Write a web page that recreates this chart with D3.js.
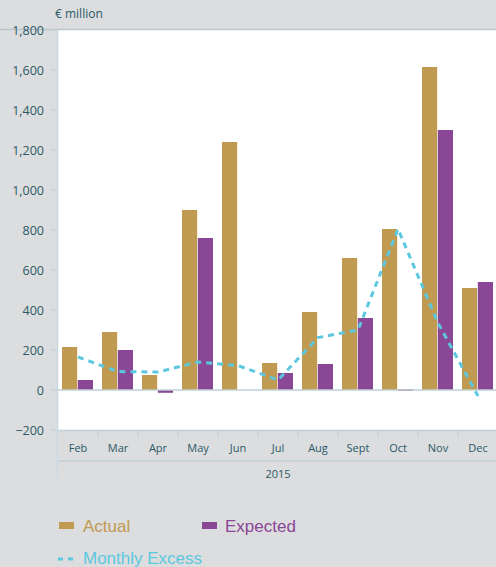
<!DOCTYPE html>
<html>
<head>
<meta charset="utf-8">
<script src="https://cdn.jsdelivr.net/npm/d3@7"></script>
<style>
  body { margin: 0; background: #dcdddf; }
  svg { display: block; }
</style>
</head>
<body>
<div id="chart"></div>
<script>
// values, € million
const months = ["Feb", "Mar", "Apr", "May", "Jun", "Jul", "Aug", "Sept", "Oct", "Nov", "Dec"];
const actual = [215, 290, 75, 900, 1240, 135, 390, 660, 805, 1615, 510];
const expected = [50, 200, -14, 760, 0, 85, 130, 360, 3, 1300, 540];
const monthlyExcess = [165, 92, 90, 140, 122, 50, 262, 300, 805, 335, -30];
const yTicks = [-200, 0, 200, 400, 600, 800, 1000, 1200, 1400, 1600, 1800];
const seriesNames = ["Actual", "Expected"];

const width = 496, height = 567;
const plot_left = 58, plot_right = 498, plot_top = 30, plot_bottom = 430;
const textColor = '#2b5966';
const axisColor = '#bfd0d6';
const colors = { "Actual": '#c09a50', "Expected": '#8a4795' };
const lineColor = '#5bc8df';

var svg = d3.select("#chart").append("svg")
    .attr("width", width)
    .attr("height", height)
    .style("font-family", "'Open Sans', sans-serif");

var x = d3.scaleBand().domain(months).range([plot_left, plot_right]).padding(0);
var x1 = d3.scaleBand().domain(seriesNames).range([4, 35]).paddingInner(0.04);
var y = d3.scaleLinear().domain([-200, 1800]).range([plot_bottom, plot_top]);

// plot background
svg.append("rect")
    .attr("x", plot_left).attr("y", plot_top)
    .attr("width", width - plot_left).attr("height", plot_bottom - plot_top)
    .attr("fill", "white");

// top border
svg.append("line")
    .attr("x1", 0).attr("x2", width)
    .attr("y1", plot_top - 0.5).attr("y2", plot_top - 0.5)
    .attr("stroke", '#b9c6cb').attr("stroke-width", 1.5);

// y axis ticks + labels
var yAxis = svg.append("g");
yAxis.selectAll("line")
    .data(yTicks).enter().append("line")
    .attr("x1", 50).attr("x2", plot_left)
    .attr("y1", d => y(d)).attr("y2", d => y(d))
    .attr("stroke", axisColor).attr("stroke-width", 1);
yAxis.selectAll("text")
    .data(yTicks).enter().append("text")
    .attr("x", 44).attr("y", d => y(d) + 4.5)
    .attr("text-anchor", "end")
    .attr("font-size", 12.5)
    .attr("fill", textColor)
    .text(d => d3.format(",")(d));

svg.append("text")
    .attr("x", 55).attr("y", 18)
    .attr("font-size", 12)
    .attr("fill", textColor)
    .text("€ million");

// bars
var groups = svg.selectAll(".month")
    .data(months).enter().append("g")
    .attr("transform", d => "translate(" + x(d) + ",0)");
groups.selectAll("rect")
    .data((d, i) => seriesNames.map(k => ({ key: k, value: k == "Actual" ? actual[i] : expected[i] })))
    .enter().append("rect")
    .attr("x", d => x1(d.key))
    .attr("width", x1.bandwidth())
    .attr("y", d => y(Math.max(0, d.value)))
    .attr("height", d => Math.max(Math.abs(y(d.value) - y(0)), d.value == 0 ? 0 : 1.5))
    .attr("fill", d => colors[d.key]);

// zero line
svg.append("line")
    .attr("x1", plot_left).attr("x2", width)
    .attr("y1", y(0)).attr("y2", y(0))
    .attr("stroke", axisColor).attr("stroke-width", 1.5);

// monthly excess line
var line = d3.line()
    .x((d, i) => x(months[i]) + x.bandwidth() / 2)
    .y(d => y(d));
svg.append("path")
    .datum(monthlyExcess)
    .attr("d", line)
    .attr("fill", "none")
    .attr("stroke", lineColor)
    .attr("stroke-width", 3)
    .attr("stroke-dasharray", "6,5");

// x axis box
svg.append("line")
    .attr("x1", plot_left).attr("x2", width)
    .attr("y1", plot_bottom + 0.5).attr("y2", plot_bottom + 0.5)
    .attr("stroke", axisColor).attr("stroke-width", 1.5);
svg.append("line")
    .attr("x1", plot_left - 1).attr("x2", width)
    .attr("y1", 461).attr("y2", 461)
    .attr("stroke", axisColor).attr("stroke-width", 1.5);
svg.append("line")
    .attr("x1", plot_left - 0.5).attr("x2", plot_left - 0.5)
    .attr("y1", plot_top).attr("y2", 478)
    .attr("stroke", '#c9dbe1').attr("stroke-width", 1.5);
svg.selectAll(".sep")
    .data(months.slice(1)).enter().append("line")
    .attr("x1", d => x(d)).attr("x2", d => x(d))
    .attr("y1", plot_bottom).attr("y2", plot_bottom + 7)
    .attr("stroke", axisColor).attr("stroke-width", 1);
svg.selectAll(".mlabel")
    .data(months).enter().append("text")
    .attr("x", d => x(d) + x.bandwidth() / 2)
    .attr("y", 452)
    .attr("text-anchor", "middle")
    .attr("font-size", 11)
    .attr("fill", textColor)
    .text(d => d);
svg.append("text")
    .attr("x", (plot_left + plot_right) / 2).attr("y", 478)
    .attr("text-anchor", "middle")
    .attr("font-size", 11)
    .attr("fill", textColor)
    .text("2015");

// legend
var legend = svg.append("g").style("font-family", "'Liberation Sans', Arial, sans-serif");
legend.append("rect").attr("x", 59).attr("y", 522).attr("width", 15).attr("height", 7).attr("fill", colors["Actual"]);
legend.append("text").attr("x", 83).attr("y", 532).attr("font-size", 17).attr("fill", colors["Actual"]).text("Actual");
legend.append("rect").attr("x", 202).attr("y", 522).attr("width", 15).attr("height", 7).attr("fill", colors["Expected"]);
legend.append("text").attr("x", 225).attr("y", 532).attr("font-size", 17).attr("fill", colors["Expected"]).text("Expected");
legend.append("line").attr("x1", 58).attr("x2", 74).attr("y1", 559).attr("y2", 559)
    .attr("stroke", lineColor).attr("stroke-width", 3).attr("stroke-dasharray", "5,5");
legend.append("text").attr("x", 83).attr("y", 564).attr("font-size", 17).attr("fill", lineColor).text("Monthly Excess");
</script>
</body>
</html>
